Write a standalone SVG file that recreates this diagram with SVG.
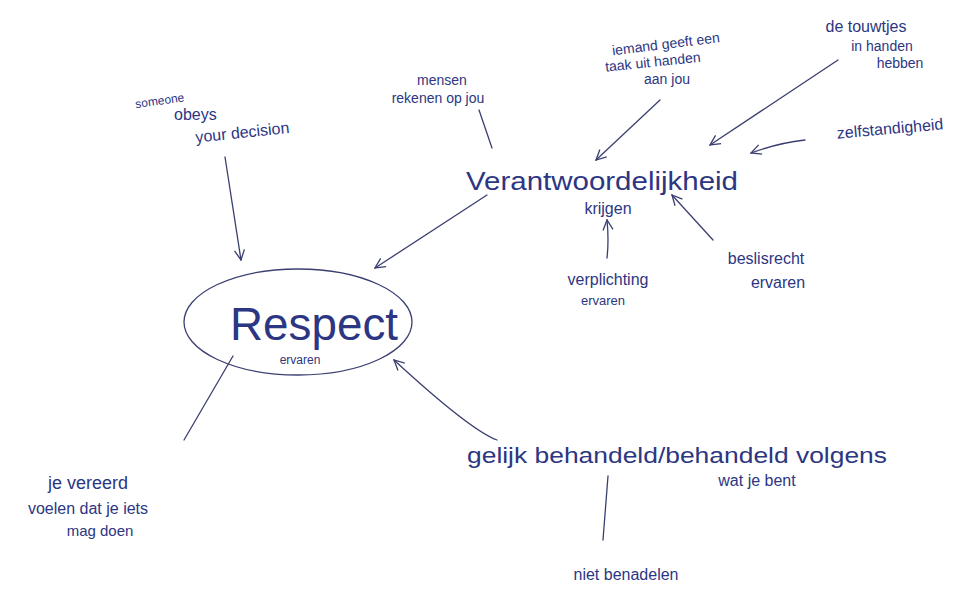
<svg xmlns="http://www.w3.org/2000/svg" width="978" height="591" viewBox="0 0 978 591">
<style>
text{font-family:"Liberation Sans","DejaVu Sans",sans-serif;fill:#2c3682}
.s{font-size:14px}
.m{font-size:16px}
.l{font-size:25px}
.c{stroke:#3a3f70;stroke-width:1.3;fill:none;stroke-linecap:round}
</style>
<defs>
<marker id="ah" viewBox="0 0 12 12" refX="11" refY="6" markerWidth="12" markerHeight="12" markerUnits="userSpaceOnUse" orient="auto">
<path d="M1,1 L11,6 L1,11" fill="none" stroke="#3a3f70" stroke-width="1.3"/>
</marker>
</defs>
<rect width="978" height="591" fill="#ffffff"/>
<g id="connectors">
<line class="c" x1="225" y1="157" x2="241" y2="260" marker-end="url(#ah)"/>
<line class="c" x1="479" y1="110" x2="492" y2="148"/>
<line class="c" x1="660" y1="100" x2="596" y2="160" marker-end="url(#ah)"/>
<line class="c" x1="838" y1="60" x2="710" y2="145" marker-end="url(#ah)"/>
<path class="c" d="M805,140 Q778,143 751,153" marker-end="url(#ah)"/>
<line class="c" x1="487" y1="195" x2="375" y2="268" marker-end="url(#ah)"/>
<path class="c" d="M607,258 Q609,240 607,220" marker-end="url(#ah)"/>
<line class="c" x1="713" y1="240" x2="672" y2="195" marker-end="url(#ah)"/>
<line class="c" x1="233" y1="356" x2="184" y2="440"/>
<path class="c" d="M497,440 Q470,430 394,360" marker-end="url(#ah)"/>
<line class="c" x1="608" y1="476" x2="603" y2="540"/>
</g>
<g id="respect">
<ellipse cx="298" cy="322" rx="114" ry="53" fill="none" stroke="#3a3f70" stroke-width="1.3"/>
<text x="230" y="340" font-size="46" textLength="168" lengthAdjust="spacingAndGlyphs">Respect</text>
<text x="300" y="364" text-anchor="middle" style="font-size:12px">ervaren</text>
</g>
<g id="someone">
<text transform="rotate(-8 165 100)" x="135" y="104" style="font-size:12px">someone</text>
<text class="m" x="174" y="120">obeys</text>
<text class="m" transform="rotate(-6 250 130)" x="195" y="137">your decision</text>
</g>
<g id="mensen">
<text class="s" x="442" y="85" text-anchor="middle">mensen</text>
<text class="s" x="438" y="103" text-anchor="middle">rekenen op jou</text>
</g>
<g id="iemand">
<text class="s" transform="rotate(-7 680 45)" x="612" y="47">iemand geeft een</text>
<text class="s" transform="rotate(-6 660 62)" x="605" y="66">taak uit handen</text>
<text class="s" x="667" y="84" text-anchor="middle">aan jou</text>
</g>
<g id="touwtjes">
<text class="m" x="866" y="32" text-anchor="middle">de touwtjes</text>
<text class="s" x="882" y="51" text-anchor="middle">in handen</text>
<text class="s" x="900" y="68" text-anchor="middle">hebben</text>
</g>
<g id="zelfstandigheid">
<text class="m" transform="rotate(-5 890 128)" x="890" y="134" text-anchor="middle">zelfstandigheid</text>
</g>
<g id="verantwoordelijkheid">
<text class="l" x="602" y="190" text-anchor="middle" textLength="272" lengthAdjust="spacingAndGlyphs">Verantwoordelijkheid</text>
<text class="m" x="608" y="214" text-anchor="middle">krijgen</text>
</g>
<g id="verplichting">
<text class="m" x="608" y="285" text-anchor="middle">verplichting</text>
<text x="603" y="305" text-anchor="middle" style="font-size:13px">ervaren</text>
</g>
<g id="beslisrecht">
<text class="m" x="766" y="264" text-anchor="middle">beslisrecht</text>
<text class="m" x="778" y="288" text-anchor="middle">ervaren</text>
</g>
<g id="vereerd">
<text x="88" y="489" text-anchor="middle" style="font-size:18px">je vereerd</text>
<text x="88" y="514" text-anchor="middle" style="font-size:16px">voelen dat je iets</text>
<text x="100" y="536" text-anchor="middle" style="font-size:15px">mag doen</text>
</g>
<g id="gelijk">
<text x="467" y="463" textLength="420" lengthAdjust="spacingAndGlyphs" style="font-size:22px">gelijk behandeld/behandeld volgens</text>
<text class="m" x="757" y="486" text-anchor="middle">wat je bent</text>
</g>
<g id="benadelen">
<text class="m" x="626" y="580" text-anchor="middle">niet benadelen</text>
</g>
</svg>
